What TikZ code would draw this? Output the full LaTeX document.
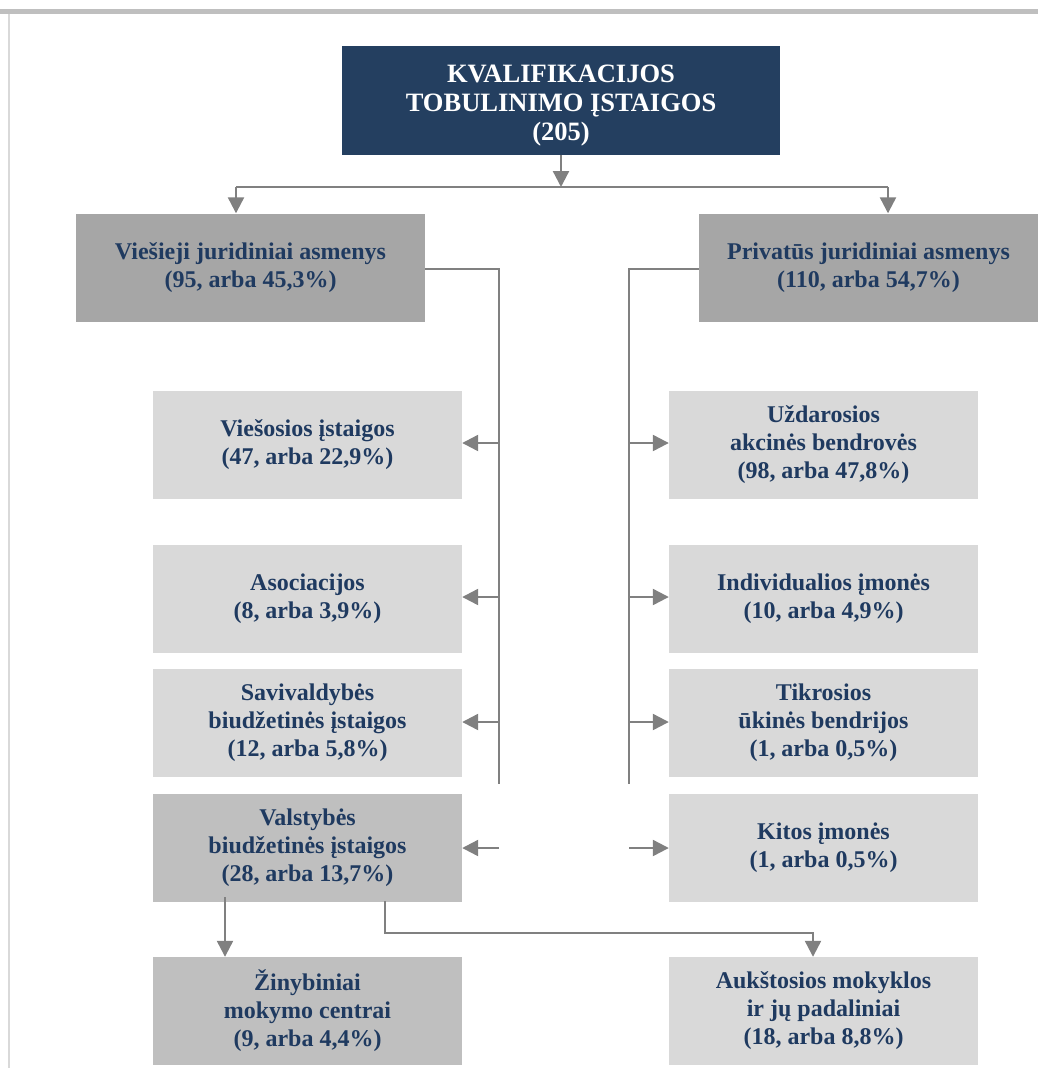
\documentclass[tikz,border=0pt]{standalone}
\usepackage{fontspec}
\setmainfont{Liberation Serif}
\usetikzlibrary{arrows.meta}
\definecolor{navy}{HTML}{243F60}
\definecolor{txt}{HTML}{1F3A60}
\definecolor{gdark}{HTML}{A6A6A6}
\definecolor{gmid}{HTML}{BFBFBF}
\definecolor{glight}{HTML}{D9D9D9}
\definecolor{conn}{HTML}{808080}
\tikzset{
  box/.style={rectangle, inner sep=0pt, align=center, text=txt,
    font=\fontsize{24}{28}\selectfont\bfseries},
  lbox/.style={box, fill=glight, minimum width=309pt, minimum height=108pt},
  mbox/.style={box, fill=gmid, minimum width=309pt, minimum height=108pt},
  conline/.style={draw=conn, line width=2.3pt},
  arr/.style={conline, -{Triangle[length=16pt,width=16pt]}},
}
\begin{document}
\begin{tikzpicture}[x=1pt,y=-1pt]
\useasboundingbox (0,0) rectangle (1038,1068);
% frame
\fill[gmid] (0,9) rectangle (1038,13.5);
\fill[glight] (7.5,13.5) rectangle (9.5,1068);
% top
\node[box, fill=navy, text=white, minimum width=438pt, minimum height=109pt,
  font=\fontsize{26.5}{29}\selectfont\bfseries] (top) at (561,100.5)
  {\rule{0pt}{27pt}KVALIFIKACIJOS\\TOBULINIMO ĮSTAIGOS\\(205)};
% level 2
\node[box, fill=gdark, minimum width=349pt, minimum height=108pt] (pub) at (250.5,267.5)
  {Viešieji juridiniai asmenys\\(95, arba 45,3\%)};
\node[box, fill=gdark, minimum width=339pt, minimum height=108pt] (priv) at (868.5,267.5)
  {Privatūs juridiniai asmenys\\(110, arba 54,7\%)};
% left column
\node[lbox] (vi) at (307.5,444.5) {Viešosios įstaigos\\(47, arba 22,9\%)};
\node[lbox] (as) at (307.5,599) {Asociacijos\\(8, arba 3,9\%)};
\node[lbox] (sa) at (307.5,723) {Savivaldybės\\biudžetinės įstaigos\\(12, arba 5,8\%)};
\node[mbox] (va) at (307.5,848) {Valstybės\\biudžetinės įstaigos\\(28, arba 13,7\%)};
\node[mbox] (zi) at (307.5,1011) {Žinybiniai\\mokymo centrai\\(9, arba 4,4\%)};
% right column
\node[lbox] (uz) at (823.5,444.5) {Uždarosios\\akcinės bendrovės\\(98, arba 47,8\%)};
\node[lbox] (in) at (823.5,599) {Individualios įmonės\\(10, arba 4,9\%)};
\node[lbox] (ti) at (823.5,723) {Tikrosios\\ūkinės bendrijos\\(1, arba 0,5\%)};
\node[lbox] (ki) at (823.5,848) {Kitos įmonės\\(1, arba 0,5\%)};
\node[lbox] (au) at (823.5,1011) {Aukštosios mokyklos\\ir jų padaliniai\\(18, arba 8,8\%)};
% coordinates
\coordinate (hl) at (236,187);
\coordinate (hr) at (888,187);
\coordinate (hm) at (top.south |- hl);
\coordinate (lv) at (499,269);
\coordinate (lb) at (499,784);
\coordinate (rv) at (629,269);
\coordinate (rb) at (629,784);
\coordinate (l1) at (499,443);
\coordinate (l2) at (499,597);
\coordinate (l3) at (499,722);
\coordinate (l4) at (499,848);
\coordinate (r1) at (629,443);
\coordinate (r2) at (629,597);
\coordinate (r3) at (629,722);
\coordinate (r4) at (629,848);
\coordinate (zs) at (225,897);
\coordinate (as1) at (385,901);
\coordinate (as2) at (385,933);
\coordinate (as3) at (813,933);
% connectors
\draw[arr] (top.south) -- (hm);
\draw[conline] (hl) -- (hr);
\draw[arr] (hl) -- (hl |- pub.north);
\draw[arr] (hr) -- (hr |- priv.north);
\draw[conline] (pub.east |- lv) -- (lv) -- (lb);
\draw[conline] (priv.west |- rv) -- (rv) -- (rb);
\draw[arr] (l1) -- (vi.east |- l1);
\draw[arr] (l2) -- (as.east |- l2);
\draw[arr] (l3) -- (sa.east |- l3);
\draw[arr] (l4) -- (va.east |- l4);
\draw[arr] (r1) -- (uz.west |- r1);
\draw[arr] (r2) -- (in.west |- r2);
\draw[arr] (r3) -- (ti.west |- r3);
\draw[arr] (r4) -- (ki.west |- r4);
\draw[arr] (zs) -- (zs |- zi.north);
\draw[arr] (as1) -- (as2) -- (as3) -- (as3 |- au.north);
\end{tikzpicture}
\end{document}
